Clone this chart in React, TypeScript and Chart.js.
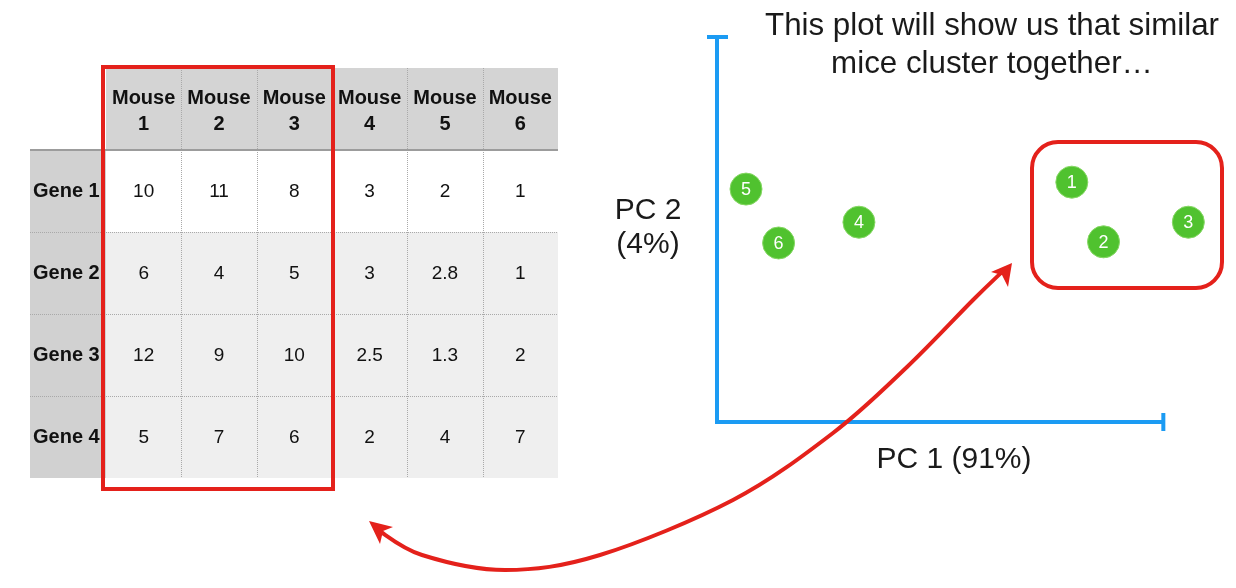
import React, { useEffect, useRef } from "react";
import { Chart, registerables } from "chart.js";

Chart.register(...registerables);

// ---- Table data ----
const mice = ["Mouse 1", "Mouse 2", "Mouse 3", "Mouse 4", "Mouse 5", "Mouse 6"];
const genes = ["Gene 1", "Gene 2", "Gene 3", "Gene 4"];
const gene1Values = [10, 11, 8, 3, 2, 1];
const gene2Values = [6, 4, 5, 3, 2.8, 1];
const gene3Values = [12, 9, 10, 2.5, 1.3, 2];
const gene4Values = [5, 7, 6, 2, 4, 7];

// ---- PCA plot data ----
const mouseIds = ["1", "2", "3", "4", "5", "6"];
const pc1Values = [7.95, 8.66, 10.56, 3.18, 0.65, 1.38];
const pc2Values = [6.23, 4.68, 5.19, 5.19, 6.05, 4.65];
const pc1AxisEnd = 10;
const pc2AxisEnd = 10;

const titleLines = ["This plot will show us that similar", "mice cluster together…"];
const xAxisTitle = "PC 1 (91%)";
const yAxisTitleLines = ["PC 2", "(4%)"];

const FONT = '"Liberation Sans", Arial, Helvetica, sans-serif';
const BLUE = "#1b9bf3";
const RED = "#e4211b";
const GREEN = "#50c22f";

const tablePlugin = {
  id: "tablePlugin",
  beforeDraw(chart: any) {
    const ctx = chart.ctx;
    const rows = [gene1Values, gene2Values, gene3Values, gene4Values];
    const x0 = 106;
    const colW = 75.33;
    const labelX0 = 30;
    const headTop = 68;
    const headBot = 150;
    const rowH = 82;
    const xEnd = x0 + colW * mice.length;
    const yEnd = headBot + rowH * genes.length;
    ctx.save();
    ctx.fillStyle = "#ffffff";
    ctx.fillRect(0, 0, chart.width, chart.height);
    ctx.fillStyle = "#d4d4d4";
    ctx.fillRect(x0, headTop, xEnd - x0, headBot - headTop);
    ctx.fillStyle = "#d1d1d1";
    ctx.fillRect(labelX0, headBot, x0 - labelX0, yEnd - headBot);
    rows.forEach((_, r) => {
      ctx.fillStyle = r === 0 ? "#ffffff" : "#efefef";
      ctx.fillRect(x0, headBot + r * rowH, xEnd - x0, rowH);
    });
    ctx.strokeStyle = "#a9a9a9";
    ctx.lineWidth = 1;
    ctx.setLineDash([1, 1]);
    for (let c = 1; c < mice.length; c++) {
      const x = Math.round(x0 + c * colW) + 0.5;
      ctx.beginPath();
      ctx.moveTo(x, headTop);
      ctx.lineTo(x, yEnd);
      ctx.stroke();
    }
    for (let r = 1; r < genes.length; r++) {
      const y = headBot + r * rowH + 0.5;
      ctx.beginPath();
      ctx.moveTo(labelX0, y);
      ctx.lineTo(xEnd, y);
      ctx.stroke();
    }
    ctx.setLineDash([]);
    ctx.strokeStyle = "#9c9c9c";
    ctx.lineWidth = 2;
    ctx.beginPath();
    ctx.moveTo(labelX0, headBot);
    ctx.lineTo(xEnd, headBot);
    ctx.stroke();
    ctx.fillStyle = "#111111";
    ctx.textAlign = "center";
    ctx.textBaseline = "middle";
    ctx.font = `bold 20px ${FONT}`;
    mice.forEach((m, c) => {
      const [a, b] = m.split(" ");
      const cx = x0 + (c + 0.5) * colW;
      ctx.fillText(a, cx, 98);
      ctx.fillText(b, cx, 124);
    });
    ctx.textAlign = "left";
    genes.forEach((g, r) => {
      ctx.fillText(g, 33, headBot + (r + 0.5) * rowH);
    });
    ctx.font = `19px ${FONT}`;
    ctx.textAlign = "center";
    rows.forEach((vals, r) => {
      vals.forEach((v, c) => {
        ctx.fillText(String(v), x0 + (c + 0.5) * colW, headBot + (r + 0.5) * rowH + 1);
      });
    });
    ctx.strokeStyle = RED;
    ctx.lineWidth = 4;
    ctx.strokeRect(103, 67, 230, 422);
    ctx.restore();
  },
};

const axesPlugin = {
  id: "axesPlugin",
  beforeDatasetsDraw(chart: any) {
    const ctx = chart.ctx;
    const xs = chart.scales.x;
    const ys = chart.scales.y;
    const left = xs.getPixelForValue(0);
    const right = xs.getPixelForValue(pc1AxisEnd);
    const bottom = ys.getPixelForValue(0);
    const top = ys.getPixelForValue(pc2AxisEnd);
    ctx.save();
    ctx.strokeStyle = BLUE;
    ctx.lineWidth = 4;
    ctx.lineCap = "butt";
    ctx.beginPath();
    ctx.moveTo(left, top);
    ctx.lineTo(left, bottom + 2);
    ctx.moveTo(left - 2, bottom);
    ctx.lineTo(right, bottom);
    ctx.moveTo(left - 10, top);
    ctx.lineTo(left + 11, top);
    ctx.moveTo(right, bottom - 9);
    ctx.lineTo(right, bottom + 9);
    ctx.stroke();
    ctx.fillStyle = "#1a1a1a";
    ctx.textAlign = "center";
    ctx.textBaseline = "middle";
    ctx.font = `31.3px ${FONT}`;
    ctx.fillText(titleLines[0], 992, 26);
    ctx.fillText(titleLines[1], 992, 64);
    ctx.font = `30px ${FONT}`;
    ctx.fillText(xAxisTitle, 954, bottom + 38);
    ctx.fillText(yAxisTitleLines[0], 648, 211);
    ctx.fillText(yAxisTitleLines[1], 648, 245);
    ctx.restore();
  },
  afterDatasetsDraw(chart: any) {
    const ctx = chart.ctx;
    const meta = chart.getDatasetMeta(0);
    ctx.save();
    ctx.fillStyle = "#ffffff";
    ctx.textAlign = "center";
    ctx.textBaseline = "middle";
    ctx.font = `18px ${FONT}`;
    meta.data.forEach((el: any, i: number) => {
      ctx.fillText(mouseIds[i], el.x, el.y + 1);
    });
    ctx.strokeStyle = RED;
    ctx.lineWidth = 4;
    const bx = 1032, by = 142, bw = 190, bh = 146, r = 26;
    ctx.beginPath();
    ctx.moveTo(bx + r, by);
    ctx.arcTo(bx + bw, by, bx + bw, by + bh, r);
    ctx.arcTo(bx + bw, by + bh, bx, by + bh, r);
    ctx.arcTo(bx, by + bh, bx, by, r);
    ctx.arcTo(bx, by, bx + bw, by, r);
    ctx.closePath();
    ctx.stroke();

    const pts = [
      [378, 530], [422, 555], [505, 570], [600, 555], [733, 500],
      [833, 433], [907, 367], [973, 300], [1003, 271],
    ];
    ctx.lineWidth = 4;
    ctx.lineCap = "round";
    ctx.beginPath();
    ctx.moveTo(pts[0][0], pts[0][1]);
    for (let i = 0; i < pts.length - 1; i++) {
      const p0 = pts[Math.max(0, i - 1)];
      const p1 = pts[i];
      const p2 = pts[i + 1];
      const p3 = pts[Math.min(pts.length - 1, i + 2)];
      const c1x = p1[0] + (p2[0] - p0[0]) / 6;
      const c1y = p1[1] + (p2[1] - p0[1]) / 6;
      const c2x = p2[0] - (p3[0] - p1[0]) / 6;
      const c2y = p2[1] - (p3[1] - p1[1]) / 6;
      ctx.bezierCurveTo(c1x, c1y, c2x, c2y, p2[0], p2[1]);
    }
    ctx.stroke();
    ctx.fillStyle = RED;
    ctx.beginPath();
    ctx.moveTo(1012, 263);
    ctx.lineTo(991, 272);
    ctx.lineTo(1002, 275);
    ctx.lineTo(1008, 287);
    ctx.closePath();
    ctx.fill();
    ctx.beginPath();
    ctx.moveTo(369, 521);
    ctx.lineTo(393, 527);
    ctx.lineTo(383, 531);
    ctx.lineTo(380, 544);
    ctx.closePath();
    ctx.fill();
    ctx.restore();
  },
};

export default function App() {
  const canvasRef = useRef<HTMLCanvasElement | null>(null);

  useEffect(() => {
    const canvas = canvasRef.current;
    if (!canvas) return;
    const chart = new Chart(canvas, {
      type: "scatter",
      data: {
        datasets: [
          {
            label: "Mice",
            data: pc1Values.map((x, i) => ({ x, y: pc2Values[i] })),
            backgroundColor: GREEN,
            borderColor: "#86d864",
            borderWidth: 1,
            pointRadius: 16,
            pointHoverRadius: 16,
            clip: false as any,
          },
        ],
      },
      options: {
        responsive: false,
        animation: false,
        events: [],
        layout: { padding: { left: 717, right: 14, top: 37, bottom: 166 } },
        plugins: {
          legend: { display: false },
          tooltip: { enabled: false },
          title: { display: false },
        },
        scales: {
          x: { type: "linear", min: 0, max: 11.247, display: false },
          y: { type: "linear", min: 0, max: 10, display: false },
        },
      },
      plugins: [tablePlugin, axesPlugin],
    });
    return () => chart.destroy();
  }, []);

  return (
    <div style={{ position: "fixed", left: 0, top: 0, width: 1236, height: 588, background: "#fff" }}>
      <canvas ref={canvasRef} width={1236} height={588} style={{ display: "block" }} />
    </div>
  );
}
